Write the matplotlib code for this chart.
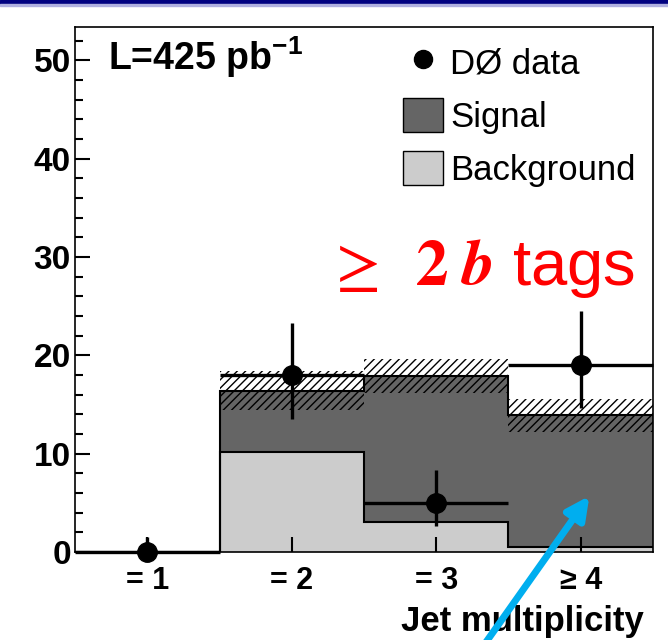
import numpy as np
import matplotlib
matplotlib.use("Agg")
import matplotlib.pyplot as plt
from matplotlib.patches import Patch, Rectangle
from matplotlib.lines import Line2D

plt.rcParams['font.family'] = ['Liberation Sans', 'DejaVu Sans']
plt.rcParams['mathtext.fontset'] = 'custom'
plt.rcParams['mathtext.rm'] = 'Liberation Sans'
plt.rcParams['mathtext.bf'] = 'Liberation Sans:bold'
plt.rcParams['mathtext.it'] = 'Liberation Sans:italic'
plt.rcParams['hatch.linewidth'] = 1.0

# jet multiplicity bins
categories = ['= 1', '= 2', '= 3', '\u2265 4']
positions = [1, 2, 3, 4]
background = [0.0, 10.2, 3.0, 0.5]
signal = [0.0, 6.2, 14.9, 13.4]
uncert = [0.0, 2.0, 1.7, 1.65]
data = [0, 18, 5, 19]
data_err_lo = [0.0, 4.5, 2.4, 4.4]
data_err_hi = [1.5, 5.3, 3.3, 5.5]

edges = np.arange(0.5, 5.0, 1.0)
bkg = np.array(background)
tot = bkg + np.array(signal)
unc = np.array(uncert)

fig = plt.figure(figsize=(6.68, 6.4), dpi=100)
ax = fig.add_axes([0.1123, 0.1375, 0.8652, 0.8205])

# navy band at top of the slide
fig.patches.append(Rectangle((0, 1 - 4 / 640), 1, 4 / 640, transform=fig.transFigure,
                             color='#000080', zorder=0))
fig.patches.append(Rectangle((0, 1 - 6 / 640), 1, 2 / 640, transform=fig.transFigure,
                             color='#b0b0e0', zorder=0))

ax.stairs(bkg, edges, baseline=0, fill=True, color='#cccccc', zorder=1)
ax.stairs(tot, edges, baseline=bkg, fill=True, color='#656565', zorder=1)
ax.stairs(tot + unc, edges, baseline=tot - unc, fill=True, facecolor='none',
          edgecolor='black', hatch='////', linewidth=0, zorder=2)
ax.stairs(bkg, edges, baseline=None, color='black', linewidth=1.5, zorder=3)
ax.stairs(tot, edges, baseline=None, color='black', linewidth=1.5, zorder=3)

ax.errorbar(positions, data, yerr=[data_err_lo, data_err_hi], xerr=0.5,
            fmt='o', color='black', markersize=14, elinewidth=2.4, capsize=0,
            zorder=5, clip_on=False)

ax.set_xlim(0.5, 4.5)
ax.set_ylim(0, 53.4)
ax.set_xticks(positions)
ax.set_xticklabels(categories)
ax.set_yticks(np.arange(0, 51, 10))
ax.set_yticks(np.arange(0, 53, 2), minor=True)
ax.tick_params(axis='y', which='major', direction='in', length=11, width=1.5,
               labelsize=24, pad=3)
ax.tick_params(axis='y', which='minor', direction='in', length=6, width=1.5)
ax.tick_params(axis='x', which='major', direction='in', length=11, width=1.5,
               labelsize=22, pad=10)
ax.tick_params(axis='x', which='minor', bottom=False)
for lab in ax.get_xticklabels() + ax.get_yticklabels():
    lab.set_fontweight('bold')
for sp in ax.spines.values():
    sp.set_linewidth(1.2)

ax.set_xlabel('Jet multiplicity', fontsize=25, fontweight='bold', loc='right')
ax.xaxis.set_label_coords(0.984, -0.1)

ax.text(0.057, 0.918, 'L=425 pb$^{\\mathbf{-1}}$', transform=ax.transAxes,
        fontsize=27, fontweight='bold', va='baseline', ha='left')
ax.text(0.969, 0.5086, '$\\geq\\;\\;\\mathbf{2}\\;\\boldsymbol{b}$ tags',
        transform=ax.transAxes, fontsize=47, color='#ff0000',
        va='baseline', ha='right', math_fontfamily='stix')

handles = [Line2D([], [], marker='o', color='black', linestyle='none', markersize=13),
           Patch(facecolor='#656565', edgecolor='black', linewidth=1),
           Patch(facecolor='#cccccc', edgecolor='black', linewidth=1)]
ax.legend(handles, ['D\u00d8 data', 'Signal', 'Background'], loc='upper right',
          bbox_to_anchor=(1.0, 1.0), frameon=False, fontsize=25,
          handlelength=1.15, handleheight=1.15, handletextpad=0.2,
          labelspacing=0.5, borderaxespad=0.1)

ax.annotate('', xy=(4.06, 5.7), xycoords='data',
            xytext=(484 / 668, 1 - 645 / 640), textcoords='figure fraction',
            arrowprops=dict(arrowstyle='-|>', color='#00aeef', lw=5,
                            mutation_scale=34, shrinkA=0, shrinkB=0),
            annotation_clip=False, zorder=10)

fig.savefig('out.png', dpi=100)
